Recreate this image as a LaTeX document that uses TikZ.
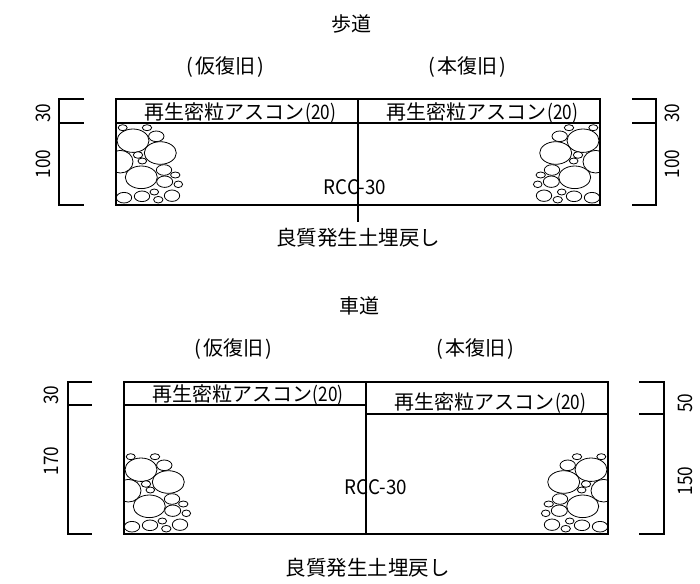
\documentclass[tikz,border=0pt]{standalone}
\usepackage{fontspec}
\setmainfont{Noto Sans CJK JP}
\newfontfamily\narrowfont[FakeStretch=0.86]{Noto Sans CJK JP}
\newfontfamily\rccfont[FakeStretch=0.94]{Noto Sans CJK JP}
\newcommand{\asphalt}{再生密粒アスコン\hspace{0.5pt}{\narrowfont(20)}}
\newcommand{\temprest}{(\hspace{2pt}仮復旧\hspace{2pt})}
\newcommand{\finalrest}{(\hspace{2pt}本復旧\hspace{2pt})}
\tikzset{
  x=1pt,y=-1pt,
  wall/.style={draw=black,line width=1.5pt},
  pebble/.style={draw=black,line width=0.8pt,fill=white},
  lab/.style={inner sep=0pt,font=\fontsize{20}{20}\selectfont},
  small/.style={inner sep=0pt,font=\fontsize{20}{20}\selectfont},
  num/.style={inner sep=0pt,rotate=90,font=\narrowfont\fontsize{20}{20}\selectfont},
  rcc/.style={inner sep=0pt,font=\rccfont\fontsize{20}{20}\selectfont},
  mat/.style={inner sep=0pt,font=\fontsize{20.5}{21}\selectfont},
}
\newcommand{\pebbles}{%
  \foreach \cx/\cy/\rx/\ry in {
    6.7/-77.3/4.5/3, 31/-77.3/4.7/3, 17/-64.3/16/11.7, 40.3/-68.7/7.7/5.3,
    44.3/-52/16/11.3, 4.3/-43.3/12.7/11.3, 22/-50/4.7/3.3, 26.3/-44/4.3/3,
    25.3/-27.7/16/11.3, 48/-35/7.7/5.3, 59.3/-30/4.7/3, 48.7/-23.3/8/5.7,
    62.3/-20.7/4.3/3.3, 8/-7.3/7.7/5.3, 26/-8.7/7.7/5.3, 38.3/-13/4.3/3,
    42.3/-5.3/4.7/3.3, 56/-9.3/7.7/5.7}
    {\draw[pebble] (\cx,\cy) ellipse [x radius=\rx,y radius=\ry];}%
}
\begin{document}
\begin{tikzpicture}
\useasboundingbox (0,0) rectangle (700,583);
% upper section
\coordinate (ua) at (116,99); \coordinate (ub) at (600,205);
\coordinate (uc) at (358,99); \coordinate (ud) at (358,222);
\coordinate (ue) at (116,123); \coordinate (uf) at (600,123);
\begin{scope}
  \clip (ua) rectangle (ub);
  \begin{scope}[shift={(116,205)}]\pebbles\end{scope}
  \begin{scope}[shift={(600,205)},xscale=-1]\pebbles\end{scope}
\end{scope}
\draw[wall] (ua) rectangle (ub);
\draw[wall] (ue) -- (uf);
\draw[wall] (uc) -- (ud);
\draw[wall] (84,99) -- (59,99) -- (59,205) -- (84,205);
\draw[wall] (59,123) -- (84,123);
\draw[wall] (632,99) -- (656,99) -- (656,205) -- (632,205);
\draw[wall] (632,123) -- (656,123);
\node[small] (t1) at (351,24) {歩道};
\node[small] (t2) at (225.5,67) {\temprest};
\node[small] (t3) at (467.5,67) {\finalrest};
\node[lab] (t4) at (240.5,113) {\asphalt};
\node[lab] (t5) at (482.5,113) {\asphalt};
\node[rcc] (t6) at (355,187) {RCC-30};
\node[mat] (t7) at (358,238) {良質発生土埋戻し};
\node[num] (n1) at (43,113) {30};
\node[num] (n2) at (43,164) {100};
\node[num] (n3) at (672,113) {30};
\node[num] (n4) at (672,164) {100};
% lower section
\coordinate (la) at (124,382); \coordinate (lb) at (608,534);
\coordinate (lc) at (366,382); \coordinate (ld) at (366,534);
\begin{scope}
  \clip (la) rectangle (lb);
  \begin{scope}[shift={(124,534)}]\pebbles\end{scope}
  \begin{scope}[shift={(608,534)},xscale=-1]\pebbles\end{scope}
\end{scope}
\draw[wall] (la) rectangle (lb);
\draw[wall] (lc) -- (ld);
\draw[wall] (124,405) -- (366,405);
\draw[wall] (366,414) -- (608,414);
\draw[wall] (92,382) -- (68,382) -- (68,534) -- (92,534);
\draw[wall] (68,405) -- (92,405);
\draw[wall] (639,382) -- (664,382) -- (664,534) -- (639,534);
\draw[wall] (639,414) -- (664,414);
\node[small] (b1) at (359,306) {車道};
\node[small] (b2) at (233,349) {\temprest};
\node[small] (b3) at (475,349) {\finalrest};
\node[lab] (b4) at (248,395) {\asphalt};
\node[lab] (b5) at (490.5,403.5) {\asphalt};
\node[rcc] (b6) at (376,487) {RCC-30};
\node[mat] (b7) at (367.5,568) {良質発生土埋戻し};
\node[num] (m1) at (51,395) {30};
\node[num] (m2) at (51,461) {170};
\node[num] (m3) at (685,403) {50};
\node[num] (m4) at (685,481) {150};
\end{tikzpicture}
\end{document}
